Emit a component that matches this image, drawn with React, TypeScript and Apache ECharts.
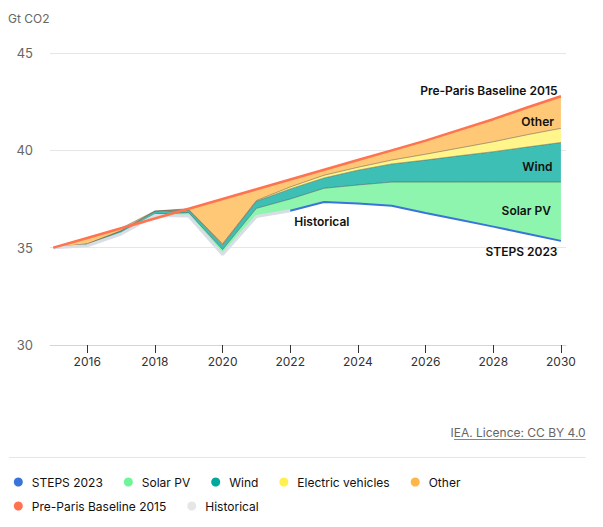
import React, { useEffect, useRef } from "react";
import * as echarts from "echarts";

const years = [2015, 2016, 2017, 2018, 2019, 2020, 2021, 2022, 2023, 2024, 2025, 2026, 2027, 2028, 2029, 2030];
const historical = [35.0, 35.1, 35.7, 36.65, 36.63, 34.65, 36.6, 36.9, null, null, null, null, null, null, null, null];
const steps2023 = [null, null, null, null, null, null, null, 36.9, 37.35, 37.27, 37.15, 36.78, 36.43, 36.08, 35.72, 35.35];
const solarPV = [0, 0.03, 0.05, 0.07, 0.17, 0.25, 0.42, 0.6, 0.7, 0.95, 1.22, 1.59, 1.94, 2.29, 2.65, 3.02];
const wind = [0, 0.05, 0.1, 0.13, 0.13, 0.25, 0.36, 0.52, 0.53, 0.76, 0.93, 1.13, 1.35, 1.56, 1.8, 2.03];
const electricVehicles = [0, 0.02, 0.02, 0.03, 0.03, 0.05, 0.04, 0.1, 0.14, 0.15, 0.2, 0.3, 0.4, 0.51, 0.63, 0.73];
const other = [0, 0.3, 0.13, 0, 0.04, 2.3, 0.58, 0.38, 0.28, 0.37, 0.5, 0.7, 0.93, 1.16, 1.4, 1.65];
const preParisBaseline = [35.0, 35.5, 36.0, 36.5, 37.0, 37.5, 38.0, 38.5, 39.0, 39.5, 40.0, 40.5, 41.05, 41.6, 42.2, 42.78];
const xTickLabels = [2016, 2018, 2020, 2022, 2024, 2026, 2028, 2030];

const FONT = "Inter, 'Noto Sans', sans-serif";

export default function App() {
  const ref = useRef<HTMLDivElement>(null);
  useEffect(() => {
    document.body.style.margin = "0";
    const chart = echarts.init(ref.current!, null, { renderer: "svg" });
    // data points are [value, year] so that the value dimension is the one stacked
    const pairs = (arr: (number | null)[]) =>
      years.map((y, i) => [arr[i], y] as [number | null, number]).filter((p) => p[0] !== null);
    const base = years.map((y, i) => [historical[i] !== null ? historical[i] : steps2023[i], y]);
    const bandLine = { color: "rgba(60,60,60,0.55)", width: 0.8 };
    const common = {
      type: "line",
      showSymbol: false,
      symbol: "none",
      silent: true,
      emphasis: { disabled: true },
      encode: { x: 1, y: 0 },
    };
    const option: any = {
      animation: false,
      textStyle: { fontFamily: FONT },
      grid: { left: 50, right: 37, top: 53, bottom: 182 },
      xAxis: {
        type: "value",
        min: 2014.9,
        max: 2030.15,
        axisLine: { show: true, lineStyle: { color: "#ccd6eb" } },
        axisTick: { show: true, customValues: xTickLabels, length: 8, lineStyle: { color: "#333" } },
        axisLabel: {
          customValues: xTickLabels,
          formatter: (v: number) => String(v),
          color: "#333",
          fontSize: 12,
          fontFamily: FONT,
          margin: 10,
        },
        splitLine: { show: false },
      },
      yAxis: {
        type: "value",
        min: 30,
        max: 45,
        interval: 5,
        axisLine: { show: false },
        axisTick: { show: false },
        axisLabel: { color: "#666", fontSize: 13, fontFamily: FONT, margin: 17 },
        splitLine: { lineStyle: { color: "#e6e6e6" } },
      },
      legend: [
        {
          data: ["STEPS 2023", "Solar PV", "Wind", "Electric vehicles", "Other"],
          left: 8.8,
          top: 471,
          icon: "circle",
          itemWidth: 9,
          itemHeight: 9,
          itemGap: 21,
          itemStyle: { borderWidth: 0 },
          textStyle: { color: "#111", fontSize: 12, fontFamily: FONT, padding: [0, 0, 0, 4] },
          selectedMode: false,
        },
        {
          data: ["Pre-Paris Baseline 2015", "Historical"],
          left: 8.8,
          top: 495,
          icon: "circle",
          itemWidth: 9,
          itemHeight: 9,
          itemGap: 21,
          itemStyle: { borderWidth: 0 },
          textStyle: { color: "#111", fontSize: 12, fontFamily: FONT, padding: [0, 0, 0, 4] },
          selectedMode: false,
        },
      ],
      series: [
        { ...common, name: "__base", stack: "s", data: base, lineStyle: { opacity: 0 }, z: 1 },
        {
          ...common,
          name: "Solar PV",
          stack: "s",
          data: pairs(solarPV),
          itemStyle: { color: "#6ef59a" },
          lineStyle: bandLine,
          areaStyle: { color: "#8ef5ae", opacity: 1 },
          z: 2,
        },
        {
          ...common,
          name: "Wind",
          stack: "s",
          data: pairs(wind),
          itemStyle: { color: "#00a99d" },
          lineStyle: bandLine,
          areaStyle: { color: "#3dbfb6", opacity: 1 },
          z: 2,
        },
        {
          ...common,
          name: "Electric vehicles",
          stack: "s",
          data: pairs(electricVehicles),
          itemStyle: { color: "#fff04f" },
          lineStyle: bandLine,
          areaStyle: { color: "#fff58a", opacity: 1 },
          z: 2,
        },
        {
          ...common,
          name: "Other",
          stack: "s",
          data: pairs(other),
          itemStyle: { color: "#ffb547" },
          lineStyle: bandLine,
          areaStyle: { color: "#ffc876", opacity: 1 },
          z: 2,
        },
        {
          ...common,
          name: "Historical",
          data: pairs(historical),
          itemStyle: { color: "#e6e6e6" },
          lineStyle: { color: "#d9dde5", width: 3 },
          z: 3,
        },
        {
          ...common,
          name: "STEPS 2023",
          data: pairs(steps2023),
          itemStyle: { color: "#3b74d8" },
          lineStyle: { color: "#3b74d8", width: 2 },
          z: 4,
        },
        {
          ...common,
          name: "Pre-Paris Baseline 2015",
          data: pairs(preParisBaseline),
          itemStyle: { color: "#ff7350" },
          lineStyle: { color: "#ff7350", width: 2.5 },
          z: 4,
        },
      ],
      graphic: [
        { type: "text", x: 8, y: 18, style: { text: "Gt CO2", fill: "#666", fontSize: 12, fontFamily: FONT, verticalAlign: "middle" } },
        ...[
          { t: "Pre-Paris Baseline 2015", x: 557.5, y: 90 },
          { t: "Other", x: 554, y: 121 },
          { t: "Wind", x: 552.5, y: 166 },
          { t: "Solar PV", x: 551, y: 210.5 },
          { t: "STEPS 2023", x: 557.5, y: 251.5 },
          { t: "Historical", x: 349.5, y: 221 },
        ].map((l) => ({
          type: "text",
          x: l.x,
          y: l.y,
          z: 10,
          style: {
            text: l.t,
            fill: "#111",
            fontSize: 12,
            fontWeight: 600,
            fontFamily: FONT,
            align: "right",
            verticalAlign: "middle",
          },
        })),
        {
          type: "text",
          x: 585.7,
          y: 432.7,
          style: { text: "IEA. Licence: CC BY 4.0", fill: "#666", fontSize: 12, fontFamily: FONT, align: "right", verticalAlign: "middle" },
        },
        { type: "line", shape: { x1: 454, y1: 439.5, x2: 585.7, y2: 439.5 }, style: { stroke: "#666", lineWidth: 0.8 } },
        { type: "line", shape: { x1: 9, y1: 457.5, x2: 585.7, y2: 457.5 }, style: { stroke: "#e6e6e6", lineWidth: 1 } },
      ],
    };
    chart.setOption(option);
    return () => chart.dispose();
  }, []);
  return <div ref={ref} style={{ width: 603, height: 527 }} />;
}
